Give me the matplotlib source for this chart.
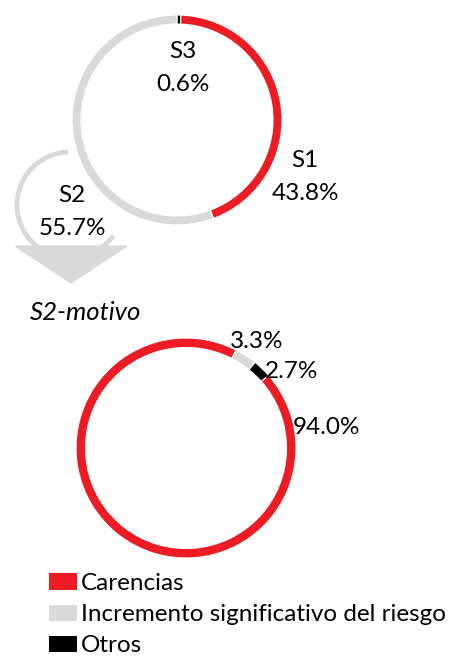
import matplotlib
matplotlib.use("Agg")
import matplotlib.pyplot as plt
from matplotlib.patches import Arc, Polygon

plt.rcParams['font.family'] = ['Lato', 'DejaVu Sans']

# top ring: stage split
stage_labels = ['S3', 'S1', 'S2']
stage_values = [0.6, 43.8, 55.7]
# bottom ring: S2 motive
motive_labels = ['Incremento significativo del riesgo', 'Otros', 'Carencias']
motive_values = [3.3, 2.7, 94.0]

RED = '#ED1C24'
GREY = '#D9D9D9'
BLACK = '#000000'

W, H = 454, 659
fig = plt.figure(figsize=(W / 100, H / 100), dpi=100)
ax = fig.add_axes([0, 0, 1, 1])


def y(v):
    # image pixel row -> data y
    return H - v


# top donut
ax.pie(stage_values, colors=[BLACK, RED, GREY], startangle=90, counterclock=False,
       radius=105, center=(177, y(120)),
       wedgeprops=dict(width=9, linewidth=0.8, edgecolor='white'))
fs = 17.5
ax.text(183, y(68), f'{stage_labels[0]}\n{stage_values[0]:.1f}%', ha='center', va='center',
        fontsize=fs, linespacing=1.65)
ax.text(305, y(177), f'{stage_labels[1]}\n{stage_values[1]:.1f}%', ha='center', va='center',
        fontsize=fs, linespacing=1.65)
ax.text(72, y(212), f'{stage_labels[2]}\n{stage_values[2]:.1f}%', ha='center', va='center',
        fontsize=fs, linespacing=1.65)

# curved arrow towards S2 breakdown
ax.add_patch(Arc((70, y(205)), 106, 106, theta1=92, theta2=325, color=GREY, lw=3.5))
ax.add_patch(Polygon([(15, y(246)), (127, y(246)), (71, y(283))], closed=True, color=GREY))

ax.text(30, y(312), 'S2-motivo', fontsize=18.5, style='italic', ha='left', va='center')

# bottom donut
wedges, _ = ax.pie(motive_values, colors=[GREY, BLACK, RED], startangle=63, counterclock=False,
                   radius=110, center=(186, y(448)),
                   wedgeprops=dict(width=9.5, linewidth=0.8, edgecolor='white'))
ax.text(257, y(342), f'{motive_values[0]:.1f}%', ha='center', va='center', fontsize=fs)
ax.text(292, y(371), f'{motive_values[1]:.1f}%', ha='center', va='center', fontsize=fs)
ax.text(326, y(428), f'{motive_values[2]:.1f}%', ha='center', va='center', fontsize=fs)

ax.set_xlim(0, W)
ax.set_ylim(0, H)
ax.set_aspect('auto')
ax.axis('off')

leg = ax.legend([wedges[2], wedges[0], wedges[1]],
                [motive_labels[2], motive_labels[0], motive_labels[1]],
                loc='upper left', bbox_to_anchor=(49 / W, 1 - 573 / H),
                frameon=False, fontsize=fs, handlelength=1.15, handleheight=0.65,
                handletextpad=0.15, labelspacing=0.42, borderaxespad=0, borderpad=0)
for h in leg.legend_handles:
    h.set_edgecolor('none')

fig.savefig('out.png', dpi=100)
